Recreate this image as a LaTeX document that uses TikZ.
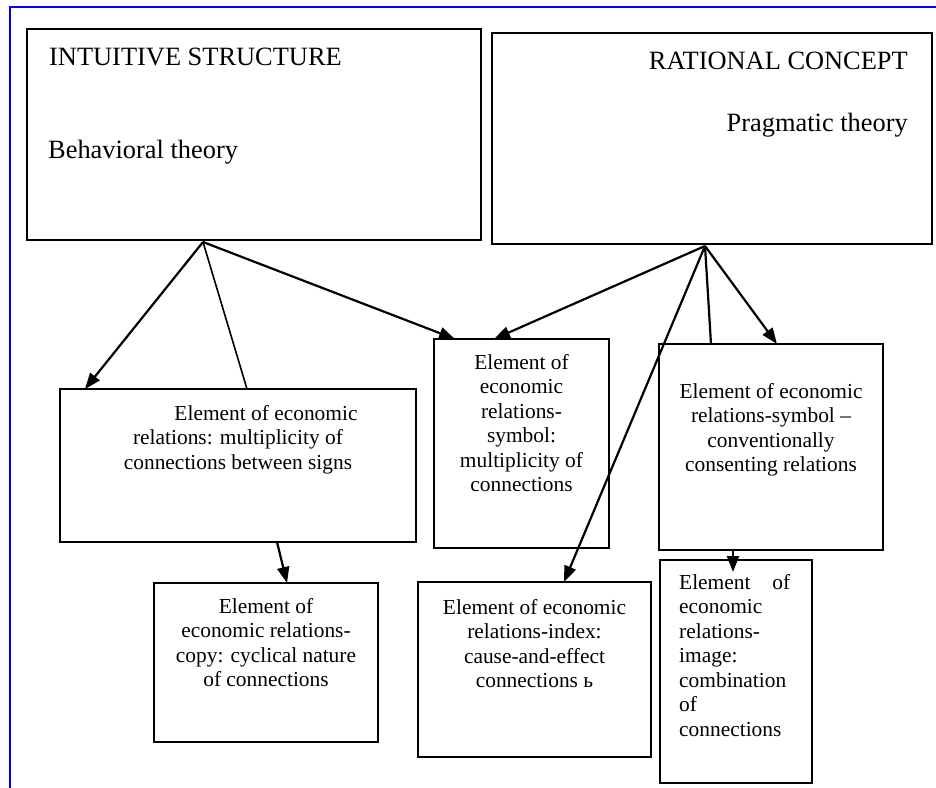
\documentclass[tikz,border=0pt]{standalone}
\usepackage{fontspec}
\setmainfont{Liberation Serif}
\usetikzlibrary{arrows.meta}
\begin{document}
\begin{tikzpicture}[x=1pt,y=-1pt,
  box/.style={draw, line width=1.6pt, inner sep=0pt, outer sep=0pt},
  big/.style={inner sep=0pt, font=\fontsize{26.4}{30}\selectfont},
  small/.style={inner sep=0pt, font=\fontsize{21.4}{24.5}\selectfont, align=center, anchor=north},
  arr/.style={line width=2.2pt, -{Triangle[length=16pt,width=12pt]}},
  plain/.style={line width=1.6pt}]
\useasboundingbox (0,0) rectangle (936,787);
% blue frame
\draw[blue, line width=2pt] (9.5,800) -- (9.5,6.5) -- (950,6.5);
% boxes
\node[box, minimum width=454pt, minimum height=211pt] (A) at (254,134.5) {};
\node[box, minimum width=440pt, minimum height=211pt] (B) at (712,138.5) {};
\node[box, minimum width=356pt, minimum height=153pt] (C) at (238,465.5) {};
\node[box, minimum width=175pt, minimum height=209pt] (D) at (521.5,443.5) {};
\node[box, minimum width=224pt, minimum height=206pt] (E) at (771,447) {};
\node[box, minimum width=224pt, minimum height=159pt] (F) at (266,662.5) {};
\node[box, minimum width=233pt, minimum height=175pt] (G) at (534.5,669.5) {};
\node[box, minimum width=152pt, minimum height=223pt] (H) at (736,671.5) {};
% texts
\node[big, anchor=base west] (At1) at (49,65) {INTUITIVE STRUCTURE};
\node[big, anchor=base west] (At2) at (48,158) {Behavioral theory};
\node[big, anchor=base east] (Bt1) at (908,69) {RATIONAL CONCEPT};
\node[big, anchor=base east] (Bt2) at (908,131) {Pragmatic theory};
\node[small] (Ct) at (238,404) {\rule{0pt}{16pt}\hspace*{56pt}Element of economic\\relations: multiplicity of\\connections between signs};
\node[small] (Dt) at (521.5,353) {\rule{0pt}{16pt}Element of\\economic\\relations-\\symbol:\\multiplicity of\\connections};
\node[small] (Et) at (771,382) {\rule{0pt}{16pt}Element of economic\\relations-symbol --\\conventionally\\consenting relations};
\node[small] (Ft) at (266,597) {\rule{0pt}{16pt}Element of\\economic relations-\\copy: cyclical nature\\of connections};
\node[small] (Gt) at (534.5,598) {\rule{0pt}{16pt}Element of economic\\relations-index:\\cause-and-effect\\connections ь};
\node[small, align=left, anchor=north west] (Ht) at (679,573) {\makebox[111pt][s]{\rule{0pt}{16pt}Element of}\\economic\\relations-\\image:\\combination\\of\\connections};
% apex points
\coordinate (Aap) at ([xshift=-51pt,yshift=-2pt]A.south);
\coordinate (Bap) at ([xshift=-7pt,yshift=-2pt]B.south);
% connectors from A
\draw[arr] (Aap) -- ([xshift=25pt]C.north west);
\draw[plain] (Aap) -- ([xshift=187pt]C.north west);
\draw[arr] (Aap) -- ([xshift=21pt]D.north west);
% connectors from B
\draw[arr] (Bap) -- ([xshift=60pt]D.north west);
\draw[plain, line width=2.2pt] (Bap) -- ([xshift=52pt]E.north west);
\draw[arr] (Bap) -- ([xshift=118pt]E.north west);
\draw[arr] (Bap) -- ([xshift=146pt]G.north west);
% lower connectors
\draw[arr] ([xshift=217pt]C.south west) -- ([xshift=133pt]F.north west);
\draw[arr] ([xshift=74pt]E.south west) -- ([xshift=73pt,yshift=-12pt]H.north west);
\end{tikzpicture}
\end{document}
